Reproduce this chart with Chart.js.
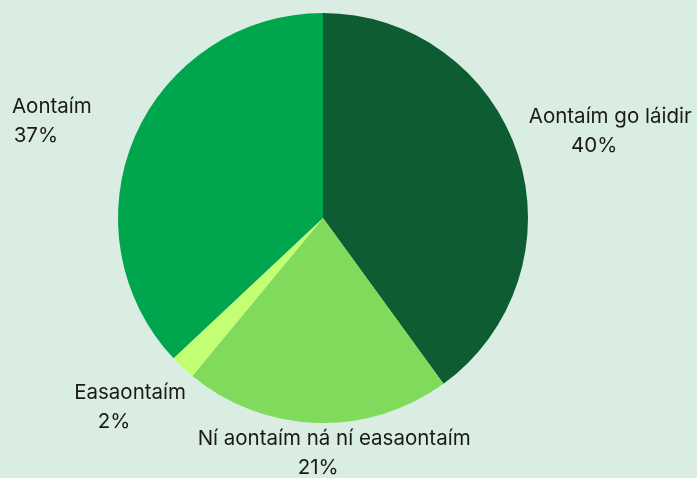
<!DOCTYPE html>
<html>
<head>
<meta charset="utf-8">
<script src="https://cdn.jsdelivr.net/npm/chart.js@4"></script>
<style>
  html, body { margin: 0; padding: 0; background: #d9ede2; }
  #wrap { width: 697px; height: 478px; }
</style>
</head>
<body>
<div id="wrap"><canvas id="myChart" width="697" height="478"></canvas></div>
<script>
// data
const categories = ['Aontaím go láidir', 'Ní aontaím ná ní easaontaím', 'Easaontaím', 'Aontaím'];
const percents = [40, 21, 2, 37];
const colours = ['#0e5c31', '#80da5c', '#c3ff72', '#00a64d'];

// label placement: distance from pie centre and small angle nudge (degrees)
const labelRadius = [300, 236, 270, 288];
const labelNudge = [1.2, -4.5, 2.4, -3.7];

const outsideLabels = {
    id: 'outsideLabels',
    afterDatasetsDraw(chart) {
        const ctx = chart.ctx;
        const arcs = chart.getDatasetMeta(0).data;
        ctx.save();
        ctx.font = '20.5px Inter';
        ctx.fillStyle = '#1a1a1a';
        ctx.textAlign = 'center';
        ctx.textBaseline = 'middle';
        const lineH = 29;
        arcs.forEach(function (arc, i) {
            const mid = (arc.startAngle + arc.endAngle) / 2 + labelNudge[i] * Math.PI / 180;
            const cx = arc.x + Math.cos(mid) * labelRadius[i];
            const cy = arc.y + Math.sin(mid) * labelRadius[i];
            ctx.fillText(categories[i], cx, cy - lineH / 2);
            ctx.fillText(percents[i] + '%', cx - 16, cy + lineH / 2);
        });
        ctx.restore();
    }
};

const ctx = document.getElementById('myChart');

new Chart(ctx, {
    type: 'pie',
    data: {
        labels: categories,
        datasets: [{
            data: percents,
            backgroundColor: colours,
            borderWidth: 0
        }]
    },
    options: {
        responsive: false,
        animation: false,
        layout: {
            padding: { left: 118, right: 169, top: 13, bottom: 55 }
        },
        plugins: {
            legend: { display: false },
            tooltip: { enabled: false }
        }
    },
    plugins: [outsideLabels]
});
</script>
</body>
</html>
